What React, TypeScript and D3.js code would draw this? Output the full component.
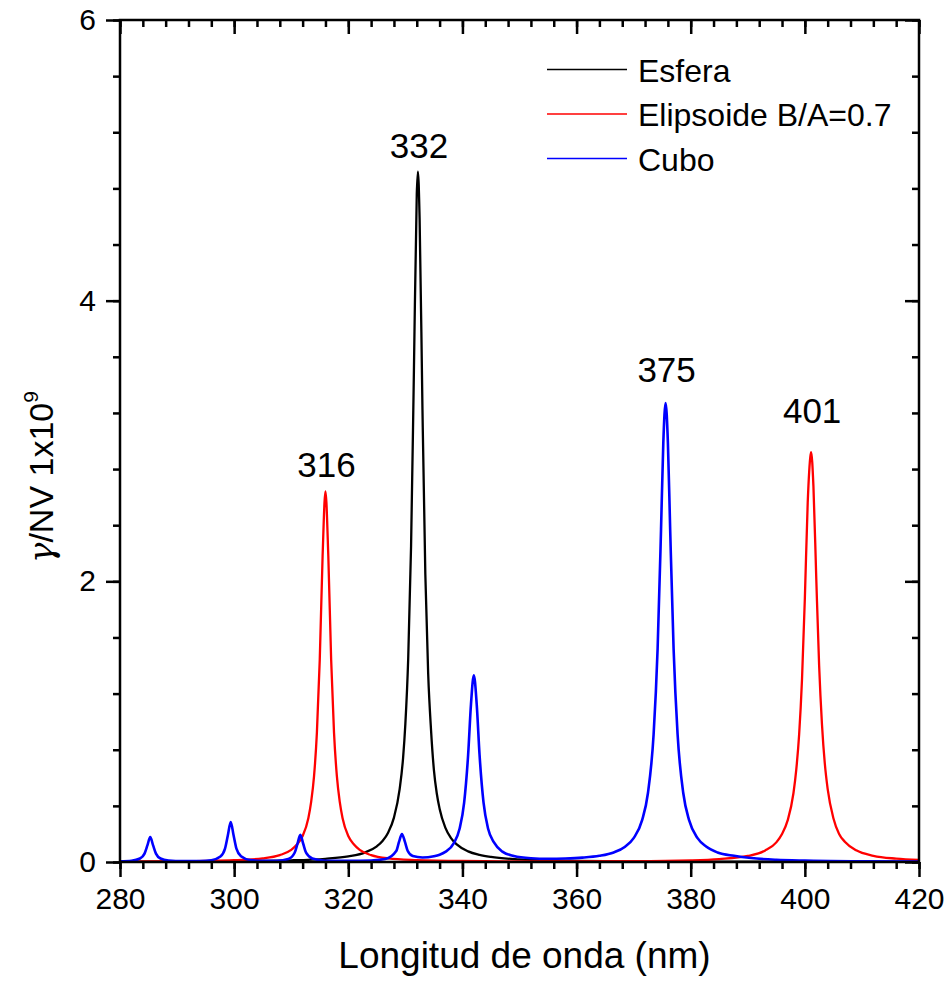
import React, { useEffect, useRef } from "react";
import * as d3 from "d3";

// wavelength (nm), gamma/NV (x1e9)
const esfera: [number, number][] = [
  [280, 0.002], [290, 0.004], [300, 0.006], [310, 0.012], [316, 0.023], [320, 0.04], [323, 0.069],
  [325, 0.112], [326, 0.15], [327, 0.211], [328, 0.316], [329, 0.52], [329.6, 0.74], [330, 0.984],
  [330.5, 1.45], [331, 2.25], [331.5, 3.5], [332, 4.76], [332.2, 4.92], [332.5, 4.58], [333, 3.22],
  [333.5, 2.05], [334, 1.34], [334.5, 0.94], [335, 0.657], [335.5, 0.49], [336, 0.38], [337, 0.245],
  [338, 0.17], [339, 0.125], [341, 0.076], [343, 0.051], [345, 0.036], [350, 0.019], [355, 0.012],
  [360, 0.008], [370, 0.004], [380, 0.003], [400, 0.002], [420, 0.001],
];

const elipsoide: [number, number][] = [
  [280, 0.003], [290, 0.005], [300, 0.013], [305, 0.026], [308, 0.049], [310, 0.086],
  [311, 0.124], [312, 0.185], [313, 0.312], [313.5, 0.43], [314, 0.612], [314.5, 0.922],
  [315, 1.44], [315.5, 2.18], [316, 2.64], [316.5, 2.18], [317, 1.44], [317.5, 0.922],
  [318, 0.612], [318.5, 0.43], [319, 0.312], [320, 0.185], [321, 0.124], [322, 0.086],
  [324, 0.049], [327, 0.026], [332, 0.014], [340, 0.007], [350, 0.005], [360, 0.005],
  [370, 0.006], [380, 0.012], [385, 0.021], [390, 0.043], [393, 0.081], [395, 0.14],
  [396, 0.2], [397, 0.298], [398, 0.49], [398.5, 0.66], [399, 0.91], [399.5, 1.3],
  [400, 1.88], [400.5, 2.56], [401, 2.9], [401.1, 2.92], [401.5, 2.68], [402, 2.02],
  [402.5, 1.4], [403, 0.98], [403.5, 0.7], [404, 0.52], [405, 0.312], [406, 0.2],
  [407, 0.145], [409, 0.083], [412, 0.044], [416, 0.024], [420, 0.015],
];

const cubo: [number, number][] = [
  [280, 0.005], [282, 0.009], [283.5, 0.025], [284.3, 0.06], [284.8, 0.118], [285.3, 0.178],
  [285.8, 0.118], [286.3, 0.06], [287.1, 0.025], [288.5, 0.011], [291, 0.006], [294, 0.007],
  [296, 0.013], [297.6, 0.039], [298.4, 0.095], [298.9, 0.19], [299.4, 0.285], [299.9, 0.19],
  [300.4, 0.095], [301.2, 0.041], [302.8, 0.014], [305, 0.008], [307.5, 0.009], [309.5, 0.022],
  [310.6, 0.066], [311.1, 0.13], [311.6, 0.193], [312.1, 0.13], [312.6, 0.066], [313.7, 0.025],
  [316, 0.009], [320, 0.008], [324, 0.011], [326.5, 0.021], [328.4, 0.078], [328.9, 0.145],
  [329.4, 0.2], [329.9, 0.147], [330.4, 0.08], [331.3, 0.042], [333, 0.032], [335, 0.041],
  [336, 0.052], [337, 0.072], [338.5, 0.135], [339.5, 0.237], [340.3, 0.423], [341, 0.764],
  [341.5, 1.125], [342, 1.33], [342.5, 1.125], [343, 0.764], [343.7, 0.423], [344.5, 0.237],
  [345.5, 0.141], [347, 0.074], [349, 0.043], [352, 0.027], [355, 0.023], [358, 0.025],
  [361, 0.031], [364, 0.044], [366.5, 0.068], [368.5, 0.109], [370, 0.17], [371.5, 0.3],
  [372.5, 0.49], [373.5, 0.91], [374.2, 1.52], [374.8, 2.37], [375.2, 2.99], [375.6, 3.27],
  [376, 2.99], [376.4, 2.37], [377, 1.52], [377.7, 0.91], [378.7, 0.49], [379.7, 0.3],
  [381.2, 0.17], [382.7, 0.11], [384.7, 0.068], [387.6, 0.044], [390.6, 0.028], [395, 0.016],
  [400, 0.01], [410, 0.005], [420, 0.003],
];

const seriesNames = ["Esfera", "Elipsoide B/A=0.7", "Cubo"];
const seriesColors = ["#000000", "#ff0000", "#0000ff"];

const xTicks = [280, 300, 320, 340, 360, 380, 400, 420];
const yTicks = [0, 2, 4, 6];

// peak labels: [wavelength, height of label baseline, text]
const peakLabels: [number, number, string][] = [
  [316, 2.74, "316"],
  [332.2, 5.02, "332"],
  [375.6, 3.42, "375"],
  [401.1, 3.13, "401"],
];

const FONT = "'Liberation Sans', Arial, sans-serif";

export default function App() {
  const ref = useRef<SVGSVGElement>(null);

  useEffect(() => {
    drawChart();
  }, []);

  function drawChart() {
    const width = 951;
    const height = 982;
    const margin = { top: 20, right: 32, bottom: 120, left: 120 };
    const innerWidth = width - margin.left - margin.right;
    const innerHeight = height - margin.top - margin.bottom;

    const svg = d3.select(ref.current).attr("width", width).attr("height", height);
    svg.selectAll("*").remove();

    const g = svg.append("g").attr("transform", `translate(${margin.left},${margin.top})`);

    const x = d3.scaleLinear().domain([280, 420]).range([0, innerWidth]);
    const y = d3.scaleLinear().domain([0, 6]).range([innerHeight, 0]);

    const xMinor = d3.range(280, 421, 4);
    const yMinor = d3.range(0, 6.01, 0.4);

    g.append("defs").append("clipPath").attr("id", "plotClip")
      .append("rect").attr("width", innerWidth).attr("height", innerHeight);

    // curves
    const line = d3.line<[number, number]>()
      .x((d) => x(d[0]))
      .y((d) => y(d[1]))
      .curve(d3.curveMonotoneX);

    const data = [esfera, elipsoide, cubo];
    const curves = g.append("g").attr("clip-path", "url(#plotClip)");
    data.forEach((s, i) => {
      curves.append("path")
        .datum(s)
        .attr("d", line)
        .attr("fill", "none")
        .attr("stroke", seriesColors[i])
        .attr("stroke-width", i === 2 ? 2.6 : 2.3)
        .attr("stroke-linejoin", "round");
    });

    // axes
    const styleAxis = (sel: any) => {
      sel.select(".domain").remove();
      sel.selectAll("line").attr("stroke", "#000").attr("stroke-width", 2.5);
      sel.selectAll("text").attr("font-family", FONT).attr("fill", "#000");
    };

    g.append("g").attr("transform", `translate(0,${innerHeight})`)
      .call(d3.axisBottom(x).tickValues(xMinor).tickSize(7).tickFormat(() => ""))
      .call(styleAxis);
    g.append("g").attr("transform", `translate(0,${innerHeight})`)
      .call(d3.axisBottom(x).tickValues(xTicks).tickSize(15).tickPadding(11).tickFormat(d3.format("d")))
      .call(styleAxis)
      .selectAll("text").attr("font-size", 30);

    g.append("g")
      .call(d3.axisTop(x).tickValues(xMinor).tickSize(-7).tickFormat(() => ""))
      .call(styleAxis);
    g.append("g")
      .call(d3.axisTop(x).tickValues(xTicks).tickSize(-14).tickFormat(() => ""))
      .call(styleAxis);

    g.append("g")
      .call(d3.axisLeft(y).tickValues(yMinor).tickSize(7).tickFormat(() => ""))
      .call(styleAxis);
    g.append("g")
      .call(d3.axisLeft(y).tickValues(yTicks).tickSize(14).tickPadding(10).tickFormat(d3.format("d")))
      .call(styleAxis)
      .selectAll("text").attr("font-size", 30);

    g.append("g").attr("transform", `translate(${innerWidth},0)`)
      .call(d3.axisRight(y).tickValues(yMinor).tickSize(-7).tickFormat(() => ""))
      .call(styleAxis);
    g.append("g").attr("transform", `translate(${innerWidth},0)`)
      .call(d3.axisRight(y).tickValues(yTicks).tickSize(-14).tickFormat(() => ""))
      .call(styleAxis);

    // frame
    g.append("rect")
      .attr("width", innerWidth)
      .attr("height", innerHeight)
      .attr("fill", "none")
      .attr("stroke", "#000")
      .attr("stroke-width", 2.5);

    // peak labels
    g.selectAll(".peak")
      .data(peakLabels)
      .join("text")
      .attr("class", "peak")
      .attr("x", (d) => x(d[0]) + 1)
      .attr("y", (d) => y(d[1]))
      .attr("text-anchor", "middle")
      .attr("font-family", FONT)
      .attr("font-size", 35)
      .text((d) => d[2]);

    // legend
    const legend = g.append("g").attr("transform", `translate(${427},${49.5})`);
    seriesNames.forEach((name, i) => {
      legend.append("line")
        .attr("x1", 0).attr("x2", 80)
        .attr("y1", i * 44.5).attr("y2", i * 44.5)
        .attr("stroke", seriesColors[i])
        .attr("stroke-width", 1.6);
      legend.append("text")
        .attr("x", 91)
        .attr("y", i * 44.5 + 12)
        .attr("font-family", FONT)
        .attr("font-size", 32)
        .text(name);
    });

    // axis titles
    svg.append("text")
      .attr("x", margin.left + innerWidth / 2 + 5)
      .attr("y", 968)
      .attr("text-anchor", "middle")
      .attr("font-family", FONT)
      .attr("font-size", 37)
      .text("Longitud de onda (nm)");

    const yTitle = svg.append("text")
      .attr("transform", `translate(53,${477}) rotate(-90)`)
      .attr("text-anchor", "middle")
      .attr("font-family", FONT)
      .attr("font-size", 34);
    yTitle.append("tspan").attr("font-family", "'DejaVu Serif', serif").attr("font-style", "italic").text("γ");
    yTitle.append("tspan").text("/NV 1x10");
    yTitle.append("tspan").attr("font-size", 21).attr("dy", -15).text("9");
  }

  return (
    <svg ref={ref} style={{ position: "absolute", left: 0, top: 0, background: "#fff" }} />
  );
}
